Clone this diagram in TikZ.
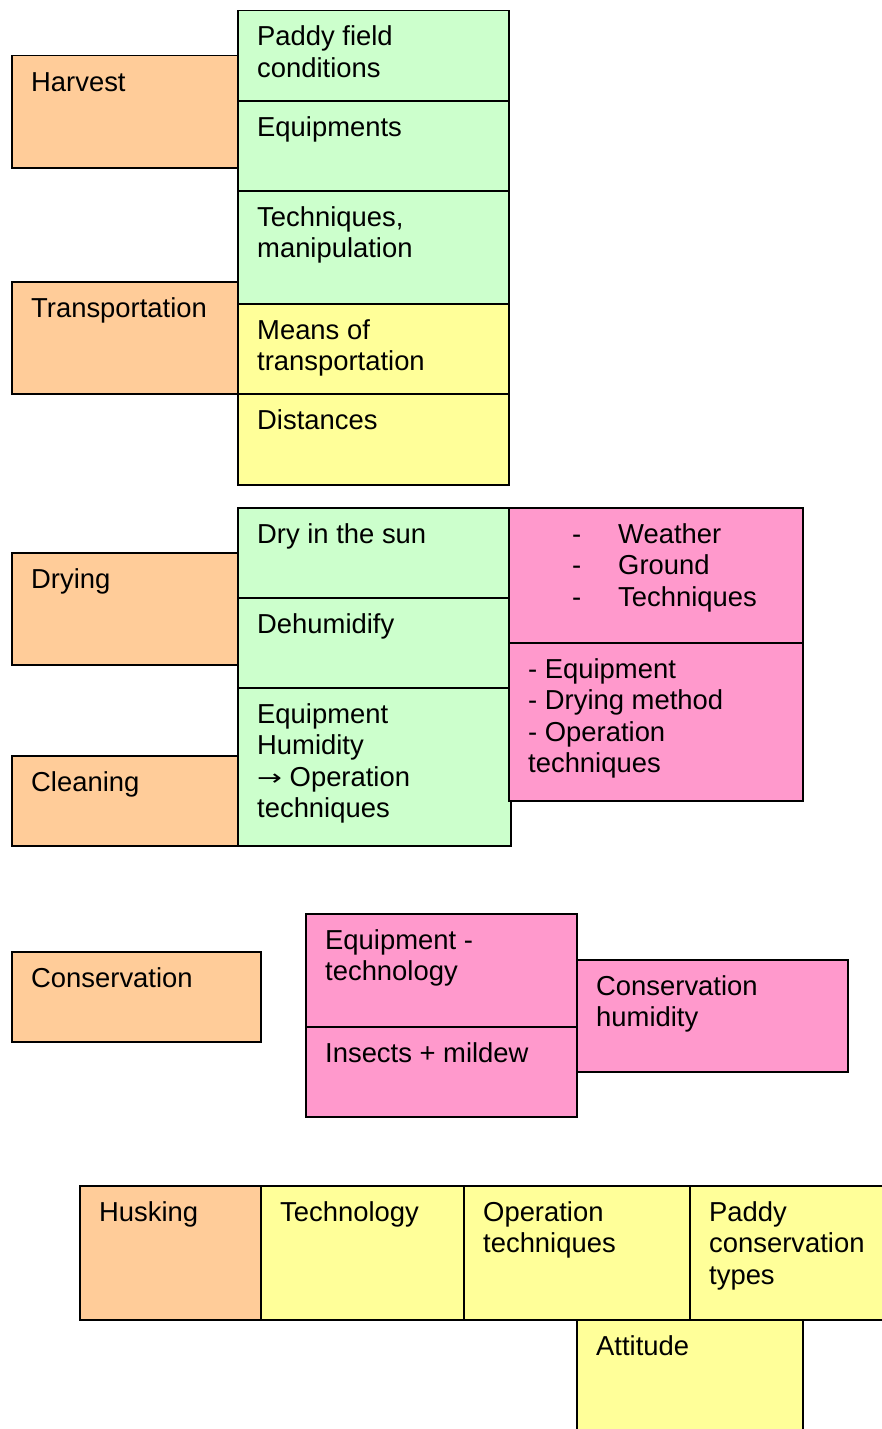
\documentclass[tikz,border=0pt]{standalone}
\usepackage{fontspec}
\setmainfont{Liberation Sans}
\newfontfamily\arrowfont{DejaVu Sans}
\usetikzlibrary{calc}
\definecolor{corange}{HTML}{FFCC99}
\definecolor{cgreen}{HTML}{CCFFCC}
\definecolor{cyellow}{HTML}{FFFF99}
\definecolor{cpink}{HTML}{FF99CC}
\tikzset{
  box/.style={draw=black, line width=1.5pt, anchor=north west, inner sep=0pt},
  txt/.style={anchor=base west, inner sep=0pt, font=\fontsize{27.4}{31.6}\selectfont},
}
% \bx{name}{x}{y}{w}{h}{colour}{text}
\newcommand{\bx}[7]{%
  \node[box, fill=#6, minimum width=#4pt, minimum height=#5pt] (#1) at (#2,#3) {};
  \node[txt] (#1t) at ($(#1.north west)+(20,36)$) {\parbox[t]{400pt}{\raggedright #7}};
}
\newcommand{\myarrow}{{\arrowfont\fontsize{22}{31.6}\selectfont\raisebox{1pt}{\scalebox{1.35}[1]{→}}}}
\begin{document}
\begin{tikzpicture}[x=1pt,y=-1pt]
\useasboundingbox (0,0) rectangle (882,1429);
% Harvest / transportation
\bx{pfc}{237}{10}{271}{90}{cgreen}{Paddy field\\conditions}
\bx{equ}{237}{100}{271}{90}{cgreen}{Equipments}
\bx{tec}{237}{190}{271}{113}{cgreen}{Techniques,\\manipulation}
\bx{mot}{237}{303}{271}{90}{cyellow}{Means of\\transportation}
\bx{dis}{237}{393}{271}{91}{cyellow}{Distances}
\bx{harvest}{11}{55}{226}{112}{corange}{Harvest}
\bx{transp}{11}{281}{226}{112}{corange}{Transportation}
% Drying / cleaning
\bx{dry}{237}{507}{271}{90}{cgreen}{Dry in the sun}
\bx{dehum}{237}{597}{271}{90}{cgreen}{Dehumidify}
\bx{eqh}{237}{687}{273}{158}{cgreen}{Equipment\\Humidity\\\myarrow{} Operation\\techniques}
\bx{drying}{11}{552}{226}{112}{corange}{Drying}
\bx{cleaning}{11}{755}{226}{90}{corange}{Cleaning}
\node[box, fill=cpink, minimum width=294pt, minimum height=135pt] (wgt) at (508,507) {};
\node[txt] (wgtd) at ($(wgt.north west)+(64,36)$) {\parbox[t]{20pt}{-\\-\\-}};
\node[txt] (wgtt) at ($(wgt.north west)+(110,36)$) {\parbox[t]{200pt}{\raggedright Weather\\Ground\\Techniques}};
\bx{edo}{508}{642}{294}{158}{cpink}{- Equipment\\- Drying method\\- Operation\\techniques}
% Conservation
\bx{conserv}{11}{951}{249}{90}{corange}{Conservation}
\bx{eqt}{305}{913}{271}{113}{cpink}{Equipment -\\technology}
\bx{ins}{305}{1026}{271}{90}{cpink}{Insects + mildew}
\bx{conhum}{576}{959}{271}{112}{cpink}{Conservation\\humidity}
% Husking
\bx{husk}{79}{1185}{181}{134}{corange}{Husking}
\bx{techn}{260}{1185}{203}{134}{cyellow}{Technology}
\bx{optec}{463}{1185}{226}{134}{cyellow}{Operation\\techniques}
\bx{pct}{689}{1185}{210}{134}{cyellow}{Paddy\\conservation\\types}
\bx{att}{576}{1319}{226}{120}{cyellow}{Attitude}
\end{tikzpicture}
\end{document}
